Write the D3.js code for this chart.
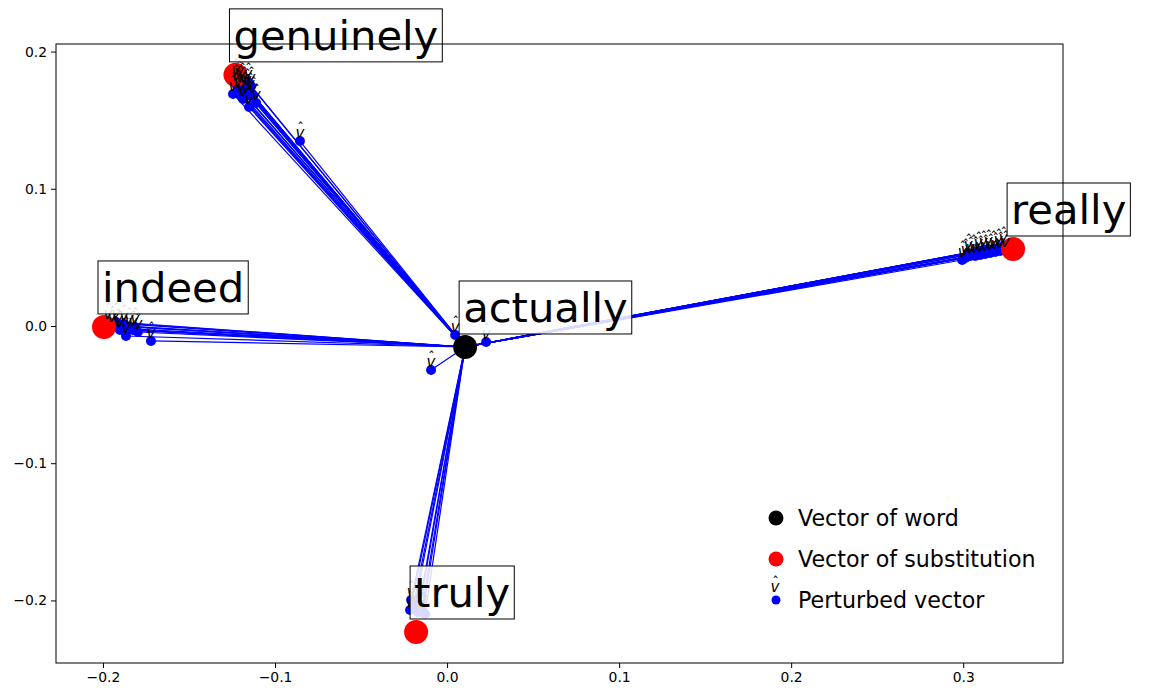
<!DOCTYPE html>
<html><head><meta charset="utf-8">
<script src="https://d3js.org/d3.v7.min.js"></script>
<style>body{margin:0;background:#fff}svg{display:block}text{font-family:"DejaVu Sans",sans-serif}</style>
</head><body><svg id="c" width="1150" height="694"></svg>
<script>
const wordLabel = "actually";
const wordVector = [0.0105, -0.0153];
const substitutions = ["genuinely", "really", "indeed", "truly"];
const substitutionVectors = [[-0.123, 0.183], [0.329, 0.0561], [-0.1994, -0.0007], [-0.018, -0.223]];
const perturbedGenuinely = [[-0.1227,0.1808],[-0.1209,0.1793],[-0.1192,0.1778],[-0.1203,0.1757],[-0.1180,0.1749],[-0.1163,0.1735],[-0.1215,0.1720],[-0.1244,0.1691],[-0.1198,0.1684],[-0.1169,0.1676],[-0.1145,0.1706],[-0.1128,0.1676],[-0.1151,0.1596],[-0.1110,0.1625],[-0.1186,0.1655],[-0.1227,0.1764],[-0.1157,0.1778],[-0.1140,0.1749],[-0.0855,0.1348]];
const perturbedReally = [[0.2994,0.0481],[0.3012,0.0496],[0.3041,0.0510],[0.3058,0.0525],[0.3070,0.0510],[0.3099,0.0517],[0.3116,0.0554],[0.3128,0.0525],[0.3145,0.0561],[0.3157,0.0532],[0.3174,0.0554],[0.3186,0.0539],[0.3203,0.0569],[0.3215,0.0547],[0.3233,0.0583],[0.3244,0.0554],[0.3029,0.0532],[0.3087,0.0547]];
const perturbedIndeed = [[-0.1971,0.0029],[-0.1948,0.0007],[-0.1924,0.0029],[-0.1913,-0.0015],[-0.1901,-0.0029],[-0.1878,0.0015],[-0.1866,-0.0073],[-0.1849,-0.0007],[-0.1826,-0.0029],[-0.1814,-0.0007],[-0.1797,-0.0044],[-0.1721,-0.0109]];
const perturbedTruly = [[-0.0209,-0.1997],[-0.0186,-0.2026],[-0.0215,-0.2070],[-0.0198,-0.2048],[-0.0169,-0.2085],[-0.0157,-0.2034],[-0.0145,-0.2055],[-0.0140,-0.2077],[-0.0128,-0.2099]];
const perturbedNearWord = [[-0.0093,-0.0321],[0.0227,-0.0117],[0.0047,-0.0066]];
const xTicks = [-0.2, -0.1, 0.0, 0.1, 0.2, 0.3];
const yTicks = [-0.2, -0.1, 0.0, 0.1, 0.2];
const legendLabels = ["Vector of word", "Vector of substitution", "Perturbed vector"];

const svg = d3.select("#c");
const L = 56, R = 1063, T = 44, B = 663;
const x = d3.scaleLinear().domain([-0.2273, 0.358]).range([L, R]);
const y = d3.scaleLinear().domain([-0.2456, 0.2055]).range([B, T]);
const fmt = d => (d < 0 ? "\u2212" : "") + Math.abs(d).toFixed(1);

const perturbed = [].concat(perturbedGenuinely, perturbedReally, perturbedIndeed, perturbedTruly, perturbedNearWord);

const g = svg.append("g");
g.selectAll("line.v").data(perturbed).join("line")
  .attr("x1", x(wordVector[0])).attr("y1", y(wordVector[1]))
  .attr("x2", d => x(d[0])).attr("y2", d => y(d[1]))
  .attr("stroke", "#0000ff").attr("stroke-width", 1.2);
g.selectAll("circle.p").data(perturbed).join("circle")
  .attr("cx", d => x(d[0])).attr("cy", d => y(d[1])).attr("r", 5).attr("fill", "#0000ff");
g.selectAll("circle.s").data(substitutionVectors).join("circle")
  .attr("cx", d => x(d[0])).attr("cy", d => y(d[1])).attr("r", 12).attr("fill", "#ff0000");
g.append("circle").attr("cx", x(wordVector[0])).attr("cy", y(wordVector[1])).attr("r", 12).attr("fill", "#000");

function vhat(sel, cx, cy) {
  sel.append("text").attr("x", cx).attr("y", cy).attr("text-anchor", "middle")
    .attr("font-size", 15).attr("font-style", "italic").text("v");
  sel.append("text").attr("x", cx + 0.5).attr("y", cy - 6).attr("text-anchor", "middle")
    .attr("font-size", 13).text("\u02C6");
}
perturbed.forEach(d => vhat(g, x(d[0]), y(d[1]) - 3));

// text labels with boxes
const labels = [[wordLabel, wordVector]].concat(substitutions.map((s, i) => [s, substitutionVectors[i]]));
labels.forEach(([t, p]) => {
  const px = x(p[0]), py = y(p[1]);
  const gg = svg.append("g");
  const rect = gg.append("rect");
  const tx = gg.append("text").attr("x", px - 2).attr("y", py - 25).attr("font-size", 41.7).attr("fill", "#000").text(t);
  const bb = tx.node().getBBox();
  rect.attr("x", bb.x - 4).attr("y", bb.y - 2).attr("width", bb.width + 8).attr("height", bb.height + 4)
    .attr("fill", "#fff").attr("fill-opacity", 0.85).attr("stroke", "#000").attr("stroke-width", 1);
});

// axes
svg.append("g").attr("transform", `translate(0,${B})`)
  .call(d3.axisBottom(x).tickValues(xTicks).tickFormat(fmt).tickSizeOuter(0).tickSize(5).tickPadding(4))
  .call(a => a.select(".domain").remove())
  .selectAll("text").attr("font-size", 13.9).attr("font-family", "DejaVu Sans");
svg.append("g").attr("transform", `translate(${L},0)`)
  .call(d3.axisLeft(y).tickValues(yTicks).tickFormat(fmt).tickSizeOuter(0).tickSize(5).tickPadding(4))
  .call(a => a.select(".domain").remove())
  .selectAll("text").attr("font-size", 13.9).attr("font-family", "DejaVu Sans");
svg.append("rect").attr("x", L).attr("y", T).attr("width", R - L).attr("height", B - T)
  .attr("fill", "none").attr("stroke", "#000").attr("stroke-width", 1);

// legend
const lg = svg.append("g");
const ly = [518, 559, 600];
const lcol = ["#000", "#ff0000", "#0000ff"];
const lr = [7.5, 7.5, 4.5];
legendLabels.forEach((t, i) => {
  lg.append("circle").attr("cx", 776).attr("cy", ly[i]).attr("r", lr[i]).attr("fill", lcol[i]);
  lg.append("text").attr("x", 798).attr("y", ly[i]).attr("dy", "0.36em").attr("font-size", 22.2).text(t);
});
vhat(lg, 775, 592);
</script></body></html>
